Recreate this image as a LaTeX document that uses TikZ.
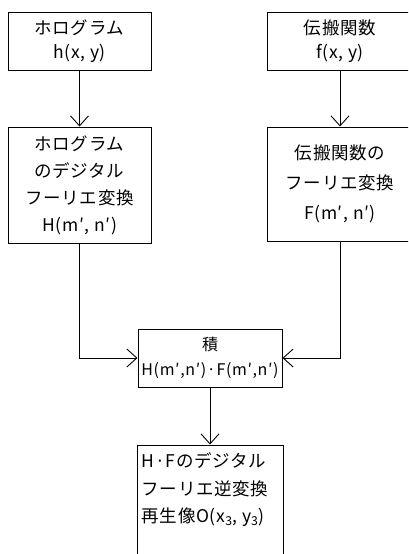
\documentclass[tikz,border=0pt]{standalone}
\usepackage{fontspec}
\setmainfont{Noto Sans CJK JP}[LetterSpace=4]
\usetikzlibrary{arrows.meta}

\begin{document}
\begin{tikzpicture}[x=1pt,y=-1pt,every node/.style={font=\fontsize{17.5}{26}\selectfont}]
    \tikzstyle{p}=[draw,line width=1pt,align=center,inner sep=0pt];
    \tikzstyle{flow}=[line width=0.9pt,-{Straight Barb[length=10pt,width=18pt,line width=0.9pt]}];
    \useasboundingbox (0,0) rectangle (408,554);
    \clip (0,0) rectangle (408,554);

    % top row: inputs
    \node[p,minimum width=143pt,minimum height=58pt,font=\fontsize{17.5}{24}\selectfont] (holo) at (79.5,41) {ホログラム\\h(x, y)};
    \node[p,minimum width=146pt,minimum height=58pt,font=\fontsize{17.5}{24}\selectfont] (prop) at (340,41) {伝搬関数\\f(x, y)};

    % second row: Fourier transforms
    \node[p,minimum width=143pt,minimum height=116pt,font=\fontsize{17.5}{27}\selectfont] (holoft) at (79.5,185)
        {ホログラム\\のデジタル\\フーリエ変換\\H(m′, n′)};
    \node[p,minimum width=145pt,minimum height=114pt,font=\fontsize{17.5}{30}\selectfont] (propft) at (340,184)
        {伝搬関数の\\フーリエ変換\\F(m′, n′)};
    \draw[flow] (holo) -- (holoft);
    \draw[flow] (prop) -- (propft);

    % product
    \node[p,minimum width=144pt,minimum height=58pt,font=\fontsize{16}{25}\selectfont] (prod) at (210,358)
        {積\\H(m′,n′)·F(m′,n′)};
    \draw[flow] (holoft.south) |- (prod.west);
    \draw[flow] (propft.south) |- (prod.east);

    % inverse transform (runs off the page)
    \node[p,minimum width=146pt,minimum height=130pt] (inv) at (210,510) {};
    \node[anchor=north west,align=left,inner sep=0pt,font=\fontsize{17.5}{27.5}\selectfont] (invtxt) at ([xshift=5pt,yshift=-8pt]inv.north west)
        {H·Fのデジタル\\フーリエ逆変換\\再生像O(x\textsubscript{3}, y\textsubscript{3})};
    \draw[flow] (prod) -- (inv);
\end{tikzpicture}
\end{document}
